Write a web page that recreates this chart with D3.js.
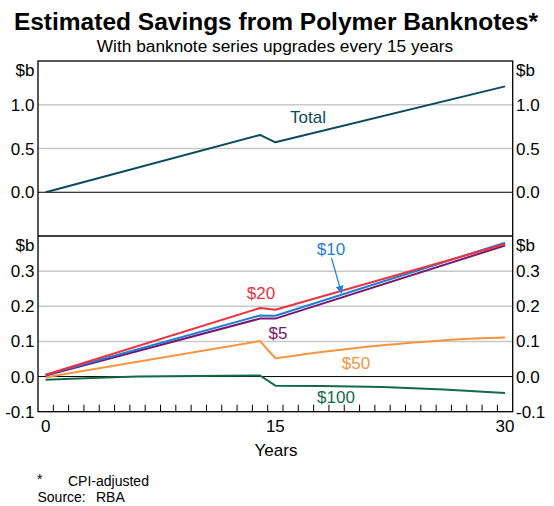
<!DOCTYPE html>
<html><head><meta charset="utf-8">
<script src="https://cdn.jsdelivr.net/npm/d3@7"></script>
<style>body{margin:0;background:#fff}svg{display:block}text{font-family:Arial,"Liberation Sans",sans-serif}</style>
</head><body>
<svg id="c" width="554" height="506"></svg>
<script>
// ---- data ----
const titleText = "Estimated Savings from Polymer Banknotes*";
const subtitleText = "With banknote series upgrades every 15 years";
const xTickLabels = [0, 15, 30];
const topTicks = [0.0, 0.5, 1.0];
const bottomTicks = [-0.1, 0.0, 0.1, 0.2, 0.3];

const totalYears = [0, 14, 15, 30];
const totalValues = [0.0, 0.655, 0.571, 1.21];

const linYears = [0, 14, 15, 30];
const s20Values = [0.005, 0.195, 0.190, 0.377];
const s10Values = [0.005, 0.174, 0.173, 0.381];
const s5Values  = [0.003, 0.165, 0.165, 0.373];

const s50Years  = [0, 14, 15, 16, 17, 18, 19, 20, 21, 22, 23, 24, 25, 26, 27, 28, 29, 30];
const s50Values = [-0.002, 0.101, 0.052, 0.058, 0.064, 0.070, 0.075, 0.080, 0.085, 0.089, 0.093, 0.097, 0.100, 0.103, 0.106, 0.108, 0.110, 0.111];

const s100Years  = [0, 3, 6, 14, 15, 18, 20, 22, 24, 26, 28, 30];
const s100Values = [-0.009, -0.004, 0.000, 0.003, -0.026, -0.027, -0.028, -0.030, -0.033, -0.037, -0.042, -0.047];

// ---- layout ----
const svg = d3.select("#c");
const L = 38, R = 512.7, T = 61, M = 236, B = 411.7;
const x = d3.scaleLinear().domain([-0.5, 30.5]).range([L, R]);
const yTop = d3.scaleLinear().domain([-0.5, 1.5]).range([M, T]);
const yBot = d3.scaleLinear().domain([-0.1, 0.4]).range([B, M]);

const col = {total:"#0b4a5e", s20:"#ec3140", s10:"#1e7fd6", s5:"#7b1670", s50:"#f7953f", s100:"#136a47"};

// title
svg.append("text").attr("x", 276).attr("y", 30).attr("text-anchor","middle")
  .attr("font-size", 24.5).attr("font-weight","bold").text(titleText);
svg.append("text").attr("x", 275).attr("y", 52.3).attr("text-anchor","middle")
  .attr("font-size", 17.3).text(subtitleText);

// gridlines
const grid = svg.append("g");
topTicks.forEach(v => {
  grid.append("line").attr("x1",L).attr("x2",R).attr("y1",yTop(v)).attr("y2",yTop(v))
    .attr("stroke", v===0 ? "#000" : "#c8c8c8").attr("stroke-width", v===0?1:1.5);
});
bottomTicks.filter(v=>v>-0.1).forEach(v => {
  grid.append("line").attr("x1",L).attr("x2",R).attr("y1",yBot(v)).attr("y2",yBot(v))
    .attr("stroke", v===0 ? "#000" : "#c8c8c8").attr("stroke-width", v===0?1:1.5);
});

// x ticks (year boundaries)
const xt = d3.range(1, 31).map(i => i - 0.5);
svg.append("g").selectAll("line").data(xt).join("line")
  .attr("x1", d=>x(d)).attr("x2", d=>x(d)).attr("y1", B).attr("y2", B-7)
  .attr("stroke","#000").attr("stroke-width",1);

// frame
svg.append("rect").attr("x",L).attr("y",T).attr("width",R-L).attr("height",B-T)
  .attr("fill","none").attr("stroke","#000").attr("stroke-width",1.3);
svg.append("line").attr("x1",L).attr("x2",R).attr("y1",M).attr("y2",M).attr("stroke","#000").attr("stroke-width",1.3);

// y labels
const fs = 17;
const yl = svg.append("g").attr("font-size", fs);
function yLabels(scale, ticks, unitY, fmt) {
  ticks.forEach(v => {
    const yy = scale(v) + 6;
    yl.append("text").attr("x", 34.5).attr("y", yy).attr("text-anchor","end").text(fmt(v));
    yl.append("text").attr("x", 516).attr("y", yy).attr("text-anchor","start").text(fmt(v));
  });
  yl.append("text").attr("x", 34.5).attr("y", unitY).attr("text-anchor","end").text("$b");
  yl.append("text").attr("x", 516).attr("y", unitY).attr("text-anchor","start").text("$b");
}
const f1 = d3.format(".1f");
yLabels(yTop, topTicks, 76, v => f1(v));
yLabels(yBot, bottomTicks, 251, v => f1(v).replace("−","-"));

// x labels
svg.append("g").attr("font-size", fs).selectAll("text").data(xTickLabels).join("text")
  .attr("x", d=>x(d)).attr("y", 431.5).attr("text-anchor","middle").text(d=>d);
svg.append("text").attr("x", 276).attr("y", 456).attr("text-anchor","middle").attr("font-size", 17).text("Years");

// lines
function drawLine(years, vals, scale, color) {
  const line = d3.line().x(d=>x(d[0])).y(d=>scale(d[1]));
  svg.append("path").datum(years.map((yv,i)=>[yv, vals[i]])).attr("d", line)
    .attr("fill","none").attr("stroke", color).attr("stroke-width", 2).attr("stroke-linejoin","round");
}
drawLine(totalYears, totalValues, yTop, col.total);
drawLine(s100Years, s100Values, yBot, col.s100);
drawLine(s50Years, s50Values, yBot, col.s50);
drawLine(linYears, s5Values, yBot, col.s5);
drawLine(linYears, s10Values, yBot, col.s10);
drawLine(linYears, s20Values, yBot, col.s20);

// series labels
const lab = svg.append("g").attr("font-size", 17).attr("text-anchor","middle");
lab.append("text").attr("x", 308).attr("y", 123).attr("fill", col.total).text("Total");
lab.append("text").attr("x", 261).attr("y", 299).attr("fill", col.s20).text("$20");
lab.append("text").attr("x", 278).attr("y", 339).attr("fill", col.s5).text("$5");
lab.append("text").attr("x", 331).attr("y", 254.5).attr("fill", col.s10).text("$10");
lab.append("text").attr("x", 356).attr("y", 368.5).attr("fill", col.s50).text("$50");
lab.append("text").attr("x", 336).attr("y", 403).attr("fill", col.s100).text("$100");

// arrow for $10
svg.append("defs").append("marker").attr("id","ah").attr("viewBox","0 0 10 10")
  .attr("refX",9).attr("refY",5).attr("markerWidth",8).attr("markerHeight",8)
  .attr("markerUnits","userSpaceOnUse").attr("orient","auto")
  .append("path").attr("d","M0,0L10,5L0,10z").attr("fill", col.s10);
svg.append("line").attr("x1",331.5).attr("y1",258).attr("x2",341.5).attr("y2",293)
  .attr("stroke", col.s10).attr("stroke-width",1.2).attr("marker-end","url(#ah)");

// footnotes
const fn = svg.append("g").attr("font-size", 14);
fn.append("text").attr("x", 37).attr("y", 484).text("*");
fn.append("text").attr("x", 68).attr("y", 486).text("CPI-adjusted");
fn.append("text").attr("x", 37.5).attr("y", 501.5).text("Source:");
fn.append("text").attr("x", 96).attr("y", 501.5).text("RBA");
</script>
</body></html>
